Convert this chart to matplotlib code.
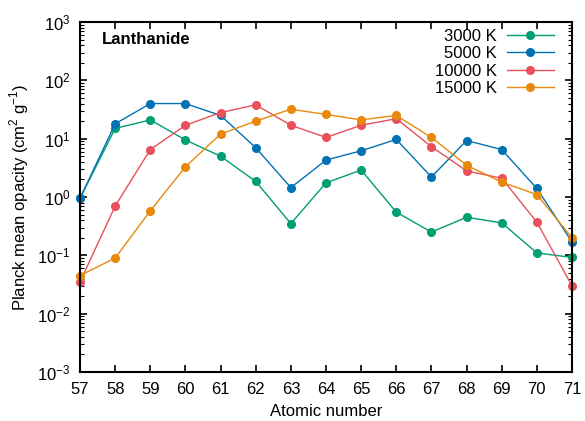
import matplotlib
matplotlib.use("Agg")
import matplotlib.pyplot as plt
from matplotlib.ticker import LogLocator, FixedLocator, NullFormatter

plt.rcParams["font.family"] = ["Liberation Sans", "DejaVu Sans"]
plt.rcParams["mathtext.fontset"] = "custom"
plt.rcParams["mathtext.rm"] = "Liberation Sans"

# DATA =================================================================================================================

atomic_number = [57, 58, 59, 60, 61, 62, 63, 64, 65, 66, 67, 68, 69, 70, 71]

opacity_3000 = [0.95, 15, 21, 9.5, 5.0, 1.85, 0.35, 1.75, 2.9, 0.55, 0.25, 0.45, 0.36, 0.11, 0.092]
opacity_5000 = [0.95, 18, 40, 40, 25, 7.0, 1.45, 4.3, 6.2, 9.7, 2.2, 9.3, 6.5, 1.4, 0.17]
opacity_10000 = [0.035, 0.7, 6.5, 17, 28, 38, 17, 10.5, 17, 22, 7.3, 2.8, 2.1, 0.37, 0.03]
opacity_15000 = [0.045, 0.09, 0.58, 3.3, 12, 20, 32, 26, 21, 25, 10.5, 3.5, 1.8, 1.1, 0.2]

y_decades = [1e-3, 1e-2, 1e-1, 1e0, 1e1, 1e2, 1e3]

series_labels = ["3000 K", "5000 K", "10000 K", "15000 K"]
series_colors = ["#009e73", "#0072b2", "#e8505a", "#e8890c"]

# PLOT =================================================================================================================

fig = plt.figure(figsize=(5.85, 4.21), dpi=100)
ax = fig.add_axes([0.1368, 0.1164, 0.841, 0.8313])

for values, label, color in zip(
        [opacity_3000, opacity_5000, opacity_10000, opacity_15000], series_labels, series_colors):
    ax.plot(atomic_number, values, color=color, lw=1.0, marker="o", ms=5.5, label=label, clip_on=False)

ax.set_yscale("log")
ax.set_xlim(57, 71)
ax.set_ylim(1e-3, 1e3)
ax.xaxis.set_major_locator(FixedLocator(atomic_number))
ax.yaxis.set_major_locator(FixedLocator(y_decades))
ax.yaxis.set_minor_locator(LogLocator(base=10, subs=range(2, 10), numticks=10))
ax.yaxis.set_minor_formatter(NullFormatter())

ax.tick_params(which="both", direction="in", top=True, right=True, labelsize=12)
ax.tick_params(which="major", length=5, width=1.2)
ax.tick_params(which="minor", length=3, width=0.8)
ax.tick_params(axis="x", which="major", pad=7)
ax.tick_params(axis="y", which="major", pad=7)
for spine in ax.spines.values():
    spine.set_linewidth(1.5)

ax.set_xlabel("Atomic number", fontsize=12, labelpad=5)
ax.set_ylabel(r"Planck mean opacity (cm$^2$ g$^{-1}$)", fontsize=12, labelpad=4)

ax.text(0.045, 0.951, "Lanthanide", transform=ax.transAxes, fontsize=12, fontweight="bold", va="center")

ax.legend(loc="upper right", bbox_to_anchor=(0.976, 1.0), frameon=False, markerfirst=False, fontsize=12,
          handlelength=2.8, labelspacing=0.15, borderaxespad=0.0, borderpad=0.4, handletextpad=0.6)

fig.savefig("out.png", dpi=100)
